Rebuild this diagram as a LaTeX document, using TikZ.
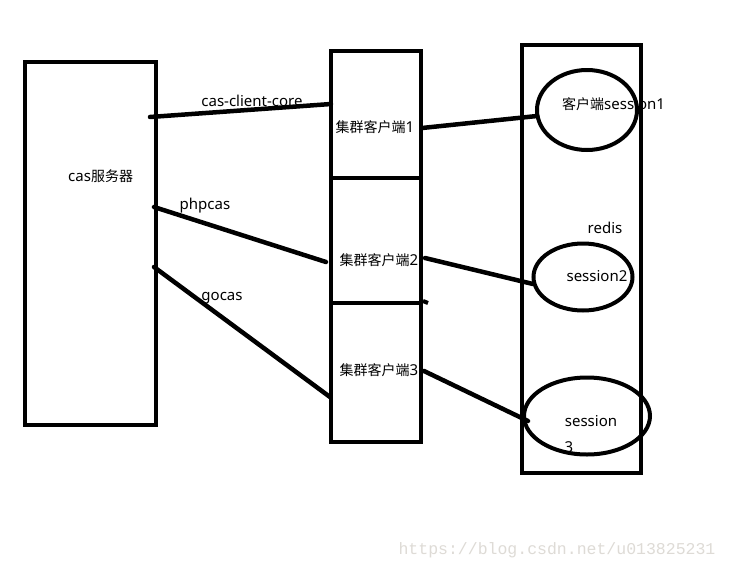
\documentclass[tikz,border=0pt]{standalone}
\usepackage{fontspec}
\setmainfont{Noto Sans}
\newfontfamily\cjk{Noto Sans CJK SC}
\newfontfamily\wmfont{Liberation Mono}
\usetikzlibrary{shapes.geometric}
\definecolor{wm}{RGB}{222,219,214}
\newcommand{\zh}[1]{{\cjk\fontsize{14}{16}\selectfont #1}}
\begin{document}
\begin{tikzpicture}[x=1pt,y=-1pt,
  box/.style={draw,line width=4pt,inner sep=0pt},
  ell/.style={draw,ellipse,line width=4pt,inner sep=0pt},
  conn/.style={line width=4.5pt,line cap=round},
  lbl/.style={font=\fontsize{15}{17}\selectfont,inner sep=0pt}]
\useasboundingbox[fill=white] (0,0) rectangle (729,571);
% boxes
\node[box,minimum width=131pt,minimum height=363pt] (server) at (90.5,243.5) {};
\node[box,minimum width=90pt,minimum height=127pt] (c1) at (376,114.5) {};
\node[box,minimum width=90pt,minimum height=125pt] (c2) at (376,240.5) {};
\node[box,minimum width=90pt,minimum height=139pt] (c3) at (376,372.5) {};
\coordinate (c3ext) at (428,303);
\draw[conn,line width=4pt,line cap=butt] (c3.north east) -- (c3ext);
\node[box,minimum width=119pt,minimum height=428pt] (redis) at (581.5,259) {};
\node[ell,minimum width=100pt,minimum height=80pt] (e1) at (587,110) {};
\node[ell,minimum width=99pt,minimum height=67pt] (e2) at (583,277) {};
\node[ell,minimum width=126pt,minimum height=77pt] (e3) at (587,416) {};
% connector endpoints
\coordinate (s1) at (150,117);
\coordinate (k1) at (331,104);
\coordinate (k1o) at (422,128);
\coordinate (e1i) at (537,116);
\coordinate (s2) at (154,207);
\coordinate (k2) at (326,262);
\coordinate (k2o) at (425,258);
\coordinate (e2i) at (533,284);
\coordinate (s3) at (154,267);
\coordinate (k3) at (330,397);
\coordinate (k3o) at (424,371);
\coordinate (e3i) at (528,421);
\draw[conn] (s1) -- (k1);
\draw[conn] (k1o) -- (e1i);
\draw[conn] (s2) -- (k2);
\draw[conn] (k2o) -- (e2i);
\draw[conn] (s3) -- (k3);
\draw[conn] (k3o) -- (e3i);
% labels
\node[lbl] (lcore) at (252,101) {cas-client-core};
\node[lbl,anchor=west] (lserver) at (68,176) {cas\zh{服务器}};
\node[lbl] (lphp) at (205,206) {phpcas};
\node[lbl] (lgo) at (222,298) {gocas};
\node[lbl] (l1) at (375,127) {\zh{集群客户端}1};
\node[lbl] (l2) at (379,260) {\zh{集群客户端}2};
\node[lbl] (l3) at (379,370) {\zh{集群客户端}3};
\node[lbl,anchor=west] (ls1) at (562,104) {\zh{客户端}session1};
\node[lbl] (lredis) at (605,228) {redis};
\node[lbl] (ls2) at (597,276) {session2};
\node[lbl] (ls3) at (591,421) {session};
\node[lbl] (ls3b) at (569,447) {3};
\node[inner sep=0pt,text=wm,font=\wmfont\fontsize{16.5}{18}\selectfont] (wm) at (557,550) {https://blog.csdn.net/u013825231};
\end{tikzpicture}
\end{document}
